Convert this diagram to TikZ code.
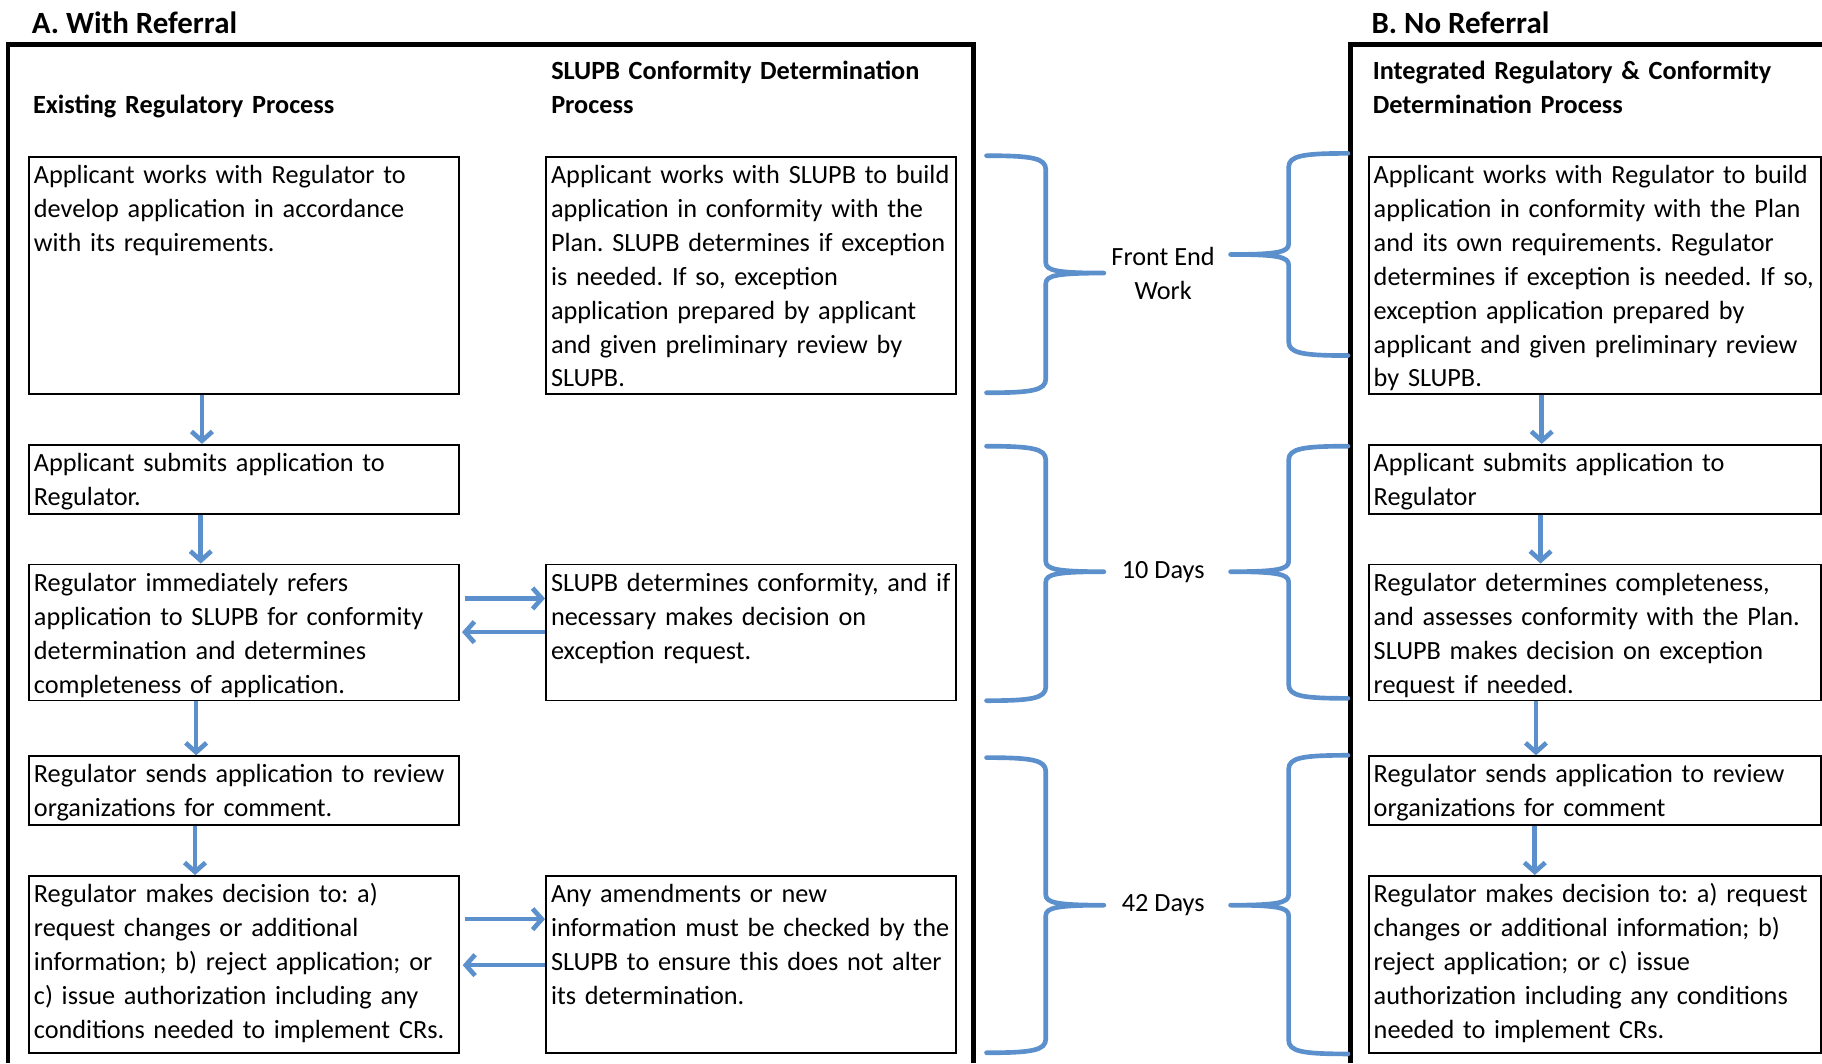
\documentclass[tikz,border=0pt]{standalone}
\usepackage{fontspec}
\setmainfont{Carlito}
\usetikzlibrary{arrows.meta}
\definecolor{flowblue}{RGB}{91,144,204}
\newcommand{\bodysize}{\fontsize{11.3}{14.6}\selectfont}
\frenchspacing
\hyphenpenalty=10000
% curly brace: stem x, direction (1 = closing, -1 = opening), top, tip, bottom
\newcommand{\curlybr}[5]{%
  \draw[brc] ({#1-(#2)*51},#3) .. controls ({#1-(#2)*12},#3) and (#1,#3+2) .. (#1,#3+12)
    -- (#1,#4-9) .. controls (#1,#4-2) and ({#1+(#2)*10},#4) .. ({#1+(#2)*50},#4)
    .. controls ({#1+(#2)*10},#4) and (#1,#4+2) .. (#1,#4+9)
    -- (#1,#5-12) .. controls (#1,#5-2) and ({#1-(#2)*12},#5) .. ({#1-(#2)*51},#5);}
\tikzstyle{pb}=[shape=rectangle,
                draw=black,
                line width=0.8pt,
                anchor=north west,
                align=left,
                inner xsep=0pt,
                inner ysep=2pt,
                text height=9.5pt,
                execute at begin node={\leftskip=2.2pt\frenchspacing\hyphenpenalty=10000}]
\tikzstyle{lcol}=[pb, text width=185pt]
\tikzstyle{mcol}=[pb, text width=176.5pt]
\tikzstyle{ncol}=[pb, text width=194.5pt]
\tikzstyle{tall}=[text depth=88.5pt]
\tikzstyle{two}=[text depth=16.25pt]
\tikzstyle{four}=[text depth=45pt]
\tikzstyle{five}=[text depth=62.75pt]
\tikzstyle{hd}=[anchor=base west,
                inner sep=0pt,
                text width=200pt,
                align=left,
                font=\bodysize\bfseries]
\tikzstyle{ttl}=[anchor=base west,
                 inner sep=0pt,
                 font=\fontsize{13.3}{16}\selectfont\bfseries]
\tikzstyle{frame}=[line width=2pt]
\tikzstyle{brc}=[draw=flowblue, line width=2pt, line cap=round, line join=round]
\tikzstyle{fl}=[draw=flowblue, line width=2pt, -{Straight Barb[length=4pt,width=9pt]}]

\begin{document}
\begin{tikzpicture}[x=0.5pt, y=-0.5pt, font=\bodysize]
\useasboundingbox (0,0) rectangle (1568,915);

% panel frames
\draw[frame] (7,915) -- (7,38.5) -- (838,38.5) -- (838,915);
\draw[frame] (1162,915) -- (1162,38.5) -- (1568,38.5);

% titles and headings
\node[ttl] (tta) at (27,28.5)   {A. With Referral};
\node[ttl] (ttb) at (1180,28.5) {B. No Referral};
\node[hd] (hda) at (28,97.5)    {Existing Regulatory Process};
\node[hd] (hdb) at (474,68.3)   {SLUPB Conformity Determination\\Process};
\node[hd] (hdc) at (1181,68.3)  {Integrated Regulatory \& Conformity\\Determination Process};

% existing regulatory process
\node[lcol, tall] (a1) at (24,134) {Applicant works with Regulator to\\develop application in accordance\\with its requirements.};
\node[lcol, two]  (a2) at (24,382) {Applicant submits application to\\Regulator.};
\node[lcol, four] (a3) at (24,485) {Regulator immediately refers\\application to SLUPB for conformity\\determination and determines\\completeness of application.};
\node[lcol, two]  (a4) at (24,650) {Regulator sends application to review\\organizations for comment.};
\node[lcol, five] (a5) at (24,753) {Regulator makes decision to: a)\\request changes or additional\\information; b) reject application; or\\c) issue authorization including any\\conditions needed to implement CRs.};

% SLUPB conformity determination
\node[mcol, tall] (s1) at (469,134) {Applicant works with SLUPB to build\\application in conformity with the\\Plan. SLUPB determines if exception\\is needed. If so, exception\\application prepared by applicant\\and given preliminary review by\\SLUPB.};
\node[mcol, four] (s3) at (469,485) {SLUPB determines conformity, and if\\necessary makes decision on\\exception request.};
\node[mcol, five] (s5) at (469,753) {Any amendments or new\\information must be checked by the\\SLUPB to ensure this does not alter\\its determination.};

% integrated process
\node[ncol, tall] (b1) at (1177,134) {Applicant works with Regulator to build\\application in conformity with the Plan\\and its own requirements. Regulator\\determines if exception is needed. If so,\\exception application prepared by\\applicant and given preliminary review\\by SLUPB.};
\node[ncol, two]  (b2) at (1177,382) {Applicant submits application to\\Regulator};
\node[ncol, four] (b3) at (1177,485) {Regulator determines completeness,\\and assesses conformity with the Plan.\\SLUPB makes decision on exception\\request if needed.};
\node[ncol, two]  (b4) at (1177,650) {Regulator sends application to review\\organizations for comment};
\node[ncol, five] (b5) at (1177,753) {Regulator makes decision to: a) request\\changes or additional information; b)\\reject application; or c) issue\\authorization including any conditions\\needed to implement CRs.};

% flow arrows
\draw[fl] ([xshift=-18pt]a1.south)   -- ([xshift=-18pt]a2.north);
\draw[fl] ([xshift=-18.5pt]a2.south) -- ([xshift=-18.5pt]a3.north);
\draw[fl] ([xshift=-20.5pt]a3.south) -- ([xshift=-20.5pt]a4.north);
\draw[fl] ([xshift=-21pt]a4.south)   -- ([xshift=-21pt]a5.north);
\draw[fl] ([xshift=2.5pt,yshift=-15pt]a3.north east) -- ([yshift=-15pt]s3.north west);
\draw[fl] ([yshift=-29.5pt]s3.north west) -- ([xshift=1pt,yshift=-29.5pt]a3.north east);
\draw[fl] ([xshift=2.5pt,yshift=-19pt]a5.north east) -- ([yshift=-19pt]s5.north west);
\draw[fl] ([yshift=-38.8pt]s5.north west) -- ([xshift=1.3pt,yshift=-38.8pt]a5.north east);
\draw[fl] ([xshift=-22.75pt]b1.south) -- ([xshift=-22.75pt]b2.north);
\draw[fl] ([xshift=-23.25pt]b2.south) -- ([xshift=-23.25pt]b3.north);
\draw[fl] ([xshift=-25.25pt]b3.south) -- ([xshift=-25.25pt]b4.north);
\draw[fl] ([xshift=-25.75pt]b4.south) -- ([xshift=-25.75pt]b5.north);

% time braces
\curlybr{900}{1}{134}{235}{338}
\curlybr{900}{1}{384}{492}{603}
\curlybr{900}{1}{652}{779}{906}
\curlybr{1109}{-1}{132}{219}{306}
\curlybr{1109}{-1}{384}{492}{601}
\curlybr{1109}{-1}{650}{779}{907}
\node[align=center] (few) at (1001,235.5) {Front End\\Work};
\node (tdy) at (1001,492) {10 Days};
\node (fdy) at (1001,779) {42 Days};

\end{tikzpicture}
\end{document}
